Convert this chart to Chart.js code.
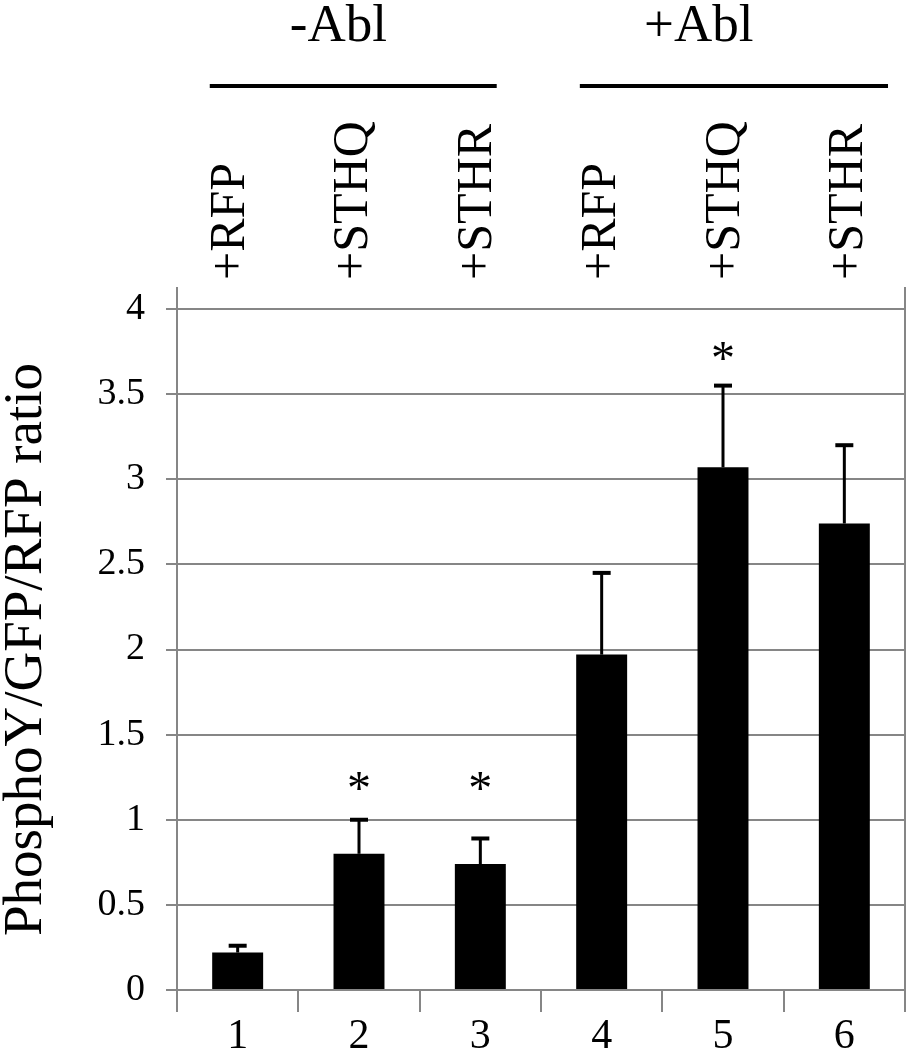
<!DOCTYPE html>
<html>
<head>
<meta charset="utf-8">
<script src="https://cdn.jsdelivr.net/npm/chart.js@4.4.1/dist/chart.umd.min.js"></script>
<style>
  html, body { margin: 0; padding: 0; background: #fff; }
  canvas { display: block; }
</style>
</head>
<body>
<canvas id="ratioChart" width="921" height="1050"></canvas>
<script>
// lane numbers on the x axis
const lanes = ['1', '2', '3', '4', '5', '6'];
// what was co-expressed in each lane
const treatments = ['+RFP', '+STHQ', '+STHR', '+RFP', '+STHQ', '+STHR'];
const groups = ['-Abl', '+Abl'];
// mean PhosphoY/GFP/RFP ratio and upper error
const ratioMeans = [0.22, 0.80, 0.74, 1.97, 3.07, 2.74];
const ratioErrors = [0.04, 0.20, 0.15, 0.48, 0.48, 0.46];
// height (in axis units) of the significance asterisks, null = none
const starLevels = [null, 1.22, 1.22, null, 3.75, null];
const yTicks = [0, 0.5, 1, 1.5, 2, 2.5, 3, 3.5, 4];

const SERIF = "'Liberation Serif', 'Times New Roman', serif";
const GRID = '#868686';

const decorations = {
  id: 'decorations',
  beforeDatasetsDraw(chart) {
    const { ctx, chartArea } = chart;
    ctx.save();
    ctx.strokeStyle = GRID;
    ctx.lineWidth = 2;
    [chartArea.left, chartArea.right].forEach(x => {
      ctx.beginPath();
      ctx.moveTo(x, chartArea.top - 22);
      ctx.lineTo(x, chartArea.bottom + 22);
      ctx.stroke();
    });
    ctx.restore();
  },
  afterDatasetsDraw(chart) {
    const { ctx } = chart;
    const xs = chart.scales.x, ys = chart.scales.y;
    const bars = chart.getDatasetMeta(0).data;
    ctx.save();
    ctx.strokeStyle = '#000';
    ctx.fillStyle = '#000';
    // error bars (upper only)
    bars.forEach((bar, i) => {
      const yTop = ys.getPixelForValue(ratioMeans[i] + ratioErrors[i]);
      ctx.lineWidth = 3;
      ctx.beginPath();
      ctx.moveTo(bar.x, bar.y);
      ctx.lineTo(bar.x, yTop);
      ctx.stroke();
      ctx.lineWidth = 4;
      ctx.beginPath();
      ctx.moveTo(bar.x - 9, yTop);
      ctx.lineTo(bar.x + 9, yTop);
      ctx.stroke();
    });
    // asterisks
    ctx.font = '48px ' + SERIF;
    ctx.textAlign = 'center';
    ctx.textBaseline = 'alphabetic';
    bars.forEach((bar, i) => {
      if (starLevels[i] == null) return;
      ctx.fillText('*', bar.x, ys.getPixelForValue(starLevels[i]) + 22);
    });

    // group headers
    const spans = [[-0.23, 2.135, 0.83], [2.82, 5.36, 3.8]];
    ctx.font = '53px ' + SERIF;
    groups.forEach((g, k) => {
      const [a, b, c] = spans[k];
      ctx.fillText(g, xs.getPixelForValue(c), 41);
      ctx.lineWidth = 4;
      ctx.beginPath();
      ctx.moveTo(xs.getPixelForValue(a), 86);
      ctx.lineTo(xs.getPixelForValue(b), 86);
      ctx.stroke();
    });

    // rotated treatment labels
    ctx.font = '50px ' + SERIF;
    ctx.textAlign = 'left';
    treatments.forEach((t, i) => {
      ctx.save();
      ctx.translate(xs.getPixelForValue(i * 1.02) + 6, 280);
      ctx.rotate(-Math.PI / 2);
      ctx.fillText(t, 0, 0);
      ctx.restore();
    });
    ctx.restore();
  }
};

new Chart(document.getElementById('ratioChart'), {
  type: 'bar',
  data: {
    labels: lanes,
    datasets: [{
      data: ratioMeans,
      backgroundColor: '#000',
      borderWidth: 0,
      barPercentage: 0.42,
      categoryPercentage: 1
    }]
  },
  options: {
    responsive: false,
    animation: false,
    layout: { padding: { top: 309, right: 16, left: 0, bottom: 0 } },
    plugins: { legend: { display: false }, tooltip: { enabled: false } },
    scales: {
      x: {
        offset: true,
        border: { display: false },
        grid: { offset: true, drawOnChartArea: false, color: GRID, lineWidth: 2, tickLength: 22 },
        ticks: { color: '#000', padding: 0, font: { family: SERIF, size: 42 } },
        afterFit(scale) { scale.height = 60; }
      },
      y: {
        min: 0,
        max: 4,
        afterBuildTicks(scale) { scale.ticks = yTicks.map(v => ({ value: v })); },
        border: { display: false },
        grid: { color: GRID, lineWidth: 2, tickLength: 11 },
        ticks: {
          color: '#000',
          padding: 21,
          font: { family: SERIF, size: 38 },
          callback: v => String(v)
        },
        title: {
          display: true,
          text: 'PhosphoY/GFP/RFP ratio',
          color: '#000',
          padding: 0,
          font: { family: SERIF, size: 55, lineHeight: 0.95 }
        },
        afterFit(scale) { scale.width = 177; }
      }
    }
  },
  plugins: [decorations]
});
</script>
</body>
</html>
